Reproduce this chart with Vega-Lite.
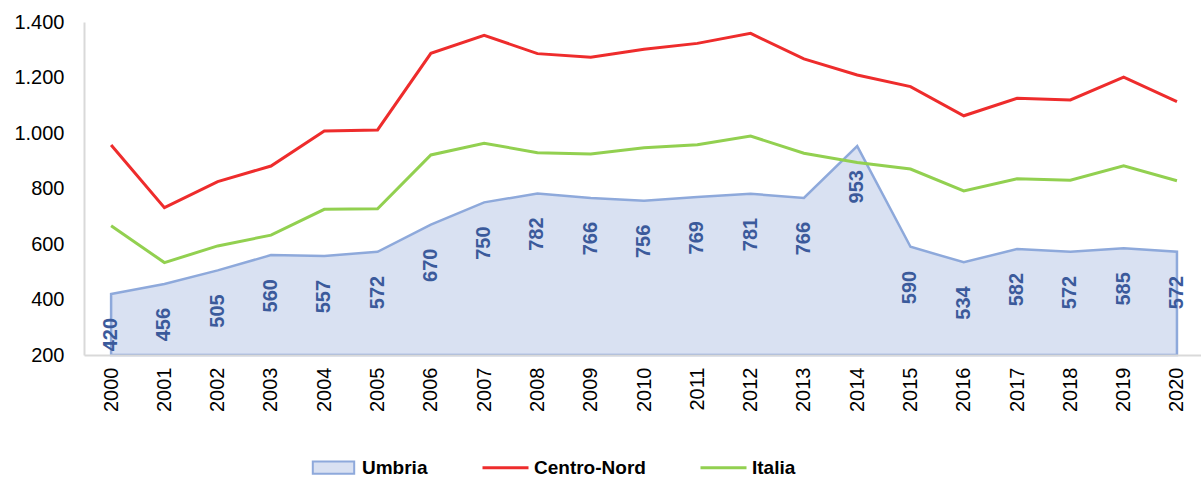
{
  "$schema": "https://vega.github.io/schema/vega-lite/v6.json",
  "width": 1117,
  "height": 333,
  "autosize": {"type": "none"},
  "padding": {"left": 84, "top": 22, "right": 0, "bottom": 124},
  "background": "white",
  "config": {"view": {"stroke": null}, "font": "Liberation Sans"},
  "data": {
    "values": [
      {"anno": "2000", "Umbria": 420, "Centro-Nord": 957, "Italia": 666},
      {"anno": "2001", "Umbria": 456, "Centro-Nord": 731, "Italia": 533},
      {"anno": "2002", "Umbria": 505, "Centro-Nord": 825, "Italia": 593},
      {"anno": "2003", "Umbria": 560, "Centro-Nord": 881, "Italia": 632},
      {"anno": "2004", "Umbria": 557, "Centro-Nord": 1007, "Italia": 725},
      {"anno": "2005", "Umbria": 572, "Centro-Nord": 1011, "Italia": 727},
      {"anno": "2006", "Umbria": 670, "Centro-Nord": 1287, "Italia": 921},
      {"anno": "2007", "Umbria": 750, "Centro-Nord": 1352, "Italia": 963},
      {"anno": "2008", "Umbria": 782, "Centro-Nord": 1286, "Italia": 929},
      {"anno": "2009", "Umbria": 766, "Centro-Nord": 1273, "Italia": 924},
      {"anno": "2010", "Umbria": 756, "Centro-Nord": 1302, "Italia": 947},
      {"anno": "2011", "Umbria": 769, "Centro-Nord": 1323, "Italia": 958},
      {"anno": "2012", "Umbria": 781, "Centro-Nord": 1359, "Italia": 989},
      {"anno": "2013", "Umbria": 766, "Centro-Nord": 1267, "Italia": 927},
      {"anno": "2014", "Umbria": 953, "Centro-Nord": 1209, "Italia": 894},
      {"anno": "2015", "Umbria": 590, "Centro-Nord": 1167, "Italia": 870},
      {"anno": "2016", "Umbria": 534, "Centro-Nord": 1062, "Italia": 791},
      {"anno": "2017", "Umbria": 582, "Centro-Nord": 1125, "Italia": 835},
      {"anno": "2018", "Umbria": 572, "Centro-Nord": 1119, "Italia": 830},
      {"anno": "2019", "Umbria": 585, "Centro-Nord": 1201, "Italia": 882},
      {"anno": "2020", "Umbria": 572, "Centro-Nord": 1113, "Italia": 828}
    ]
  },
  "encoding": {
    "x": {
      "field": "anno",
      "type": "ordinal",
      "scale": {"type": "point", "padding": 0.48, "align": 0.53},
      "axis": {
        "title": null,
        "labelAngle": 270,
        "labelFontSize": 20,
        "labelColor": "#000000",
        "ticks": false,
        "domainColor": "#D9D9D9",
        "domainWidth": 2,
        "labelPadding": 12,
        "zindex": 1
      }
    }
  },
  "layer": [
    {
      "mark": {"type": "area", "fill": "#D9E1F2", "stroke": "#8EA9DB", "strokeWidth": 2.5},
      "encoding": {
        "y": {
          "field": "Umbria",
          "type": "quantitative",
          "scale": {"domain": [200, 1400], "zero": false},
          "axis": {
            "title": null,
            "values": [200, 400, 600, 800, 1000, 1200, 1400],
            "labelExpr": "replace(format(datum.value, ','), ',', '.')",
            "labelFontSize": 20,
            "labelColor": "#000000",
            "labelFlush": false,
            "ticks": false,
            "grid": false,
            "domainColor": "#D9D9D9",
            "domainWidth": 2,
            "labelPadding": 20
          }
        },
        "y2": {"datum": 200}
      }
    },
    {
      "transform": [{"fold": ["Centro-Nord", "Italia"], "as": ["serie", "valore"]}],
      "mark": {"type": "line", "strokeWidth": 3},
      "encoding": {
        "y": {"field": "valore", "type": "quantitative"},
        "stroke": {
          "field": "serie",
          "type": "nominal",
          "scale": {"domain": ["Umbria", "Centro-Nord", "Italia"], "range": ["#8EA9DB", "#EE2C2C", "#92D050"]},
          "legend": {
            "title": null,
            "orient": "none",
            "legendX": 240,
            "legendY": 436,
            "direction": "horizontal",
            "labelFontSize": 19,
            "labelFontWeight": "bold",
            "labelColor": "#000000",
            "symbolSize": 2116,
            "symbolStrokeWidth": 3,
            "symbolType": "stroke",
            "labelOffset": 19,
            "columnPadding": 48,
            "encode": {
              "symbols": {
                "update": {
                  "shape": {"signal": "datum.value === 'Umbria' ? 'M-0.9,-0.27H0.9V0.27H-0.9Z' : 'stroke'"},
                  "fill": {"signal": "datum.value === 'Umbria' ? '#D9E1F2' : 'transparent'"},
                  "strokeWidth": {"signal": "datum.value === 'Umbria' ? 2 : 3"}
                }
              }
            }
          }
        }
      }
    },
    {
      "mark": {
        "type": "text",
        "angle": 270,
        "align": "right",
        "baseline": "middle",
        "dx": -24,
        "fontSize": 20,
        "fontWeight": "bold",
        "color": "#3B5A9B"
      },
      "encoding": {
        "y": {"field": "Umbria", "type": "quantitative"},
        "text": {"field": "Umbria", "type": "quantitative"}
      }
    }
  ]
}
